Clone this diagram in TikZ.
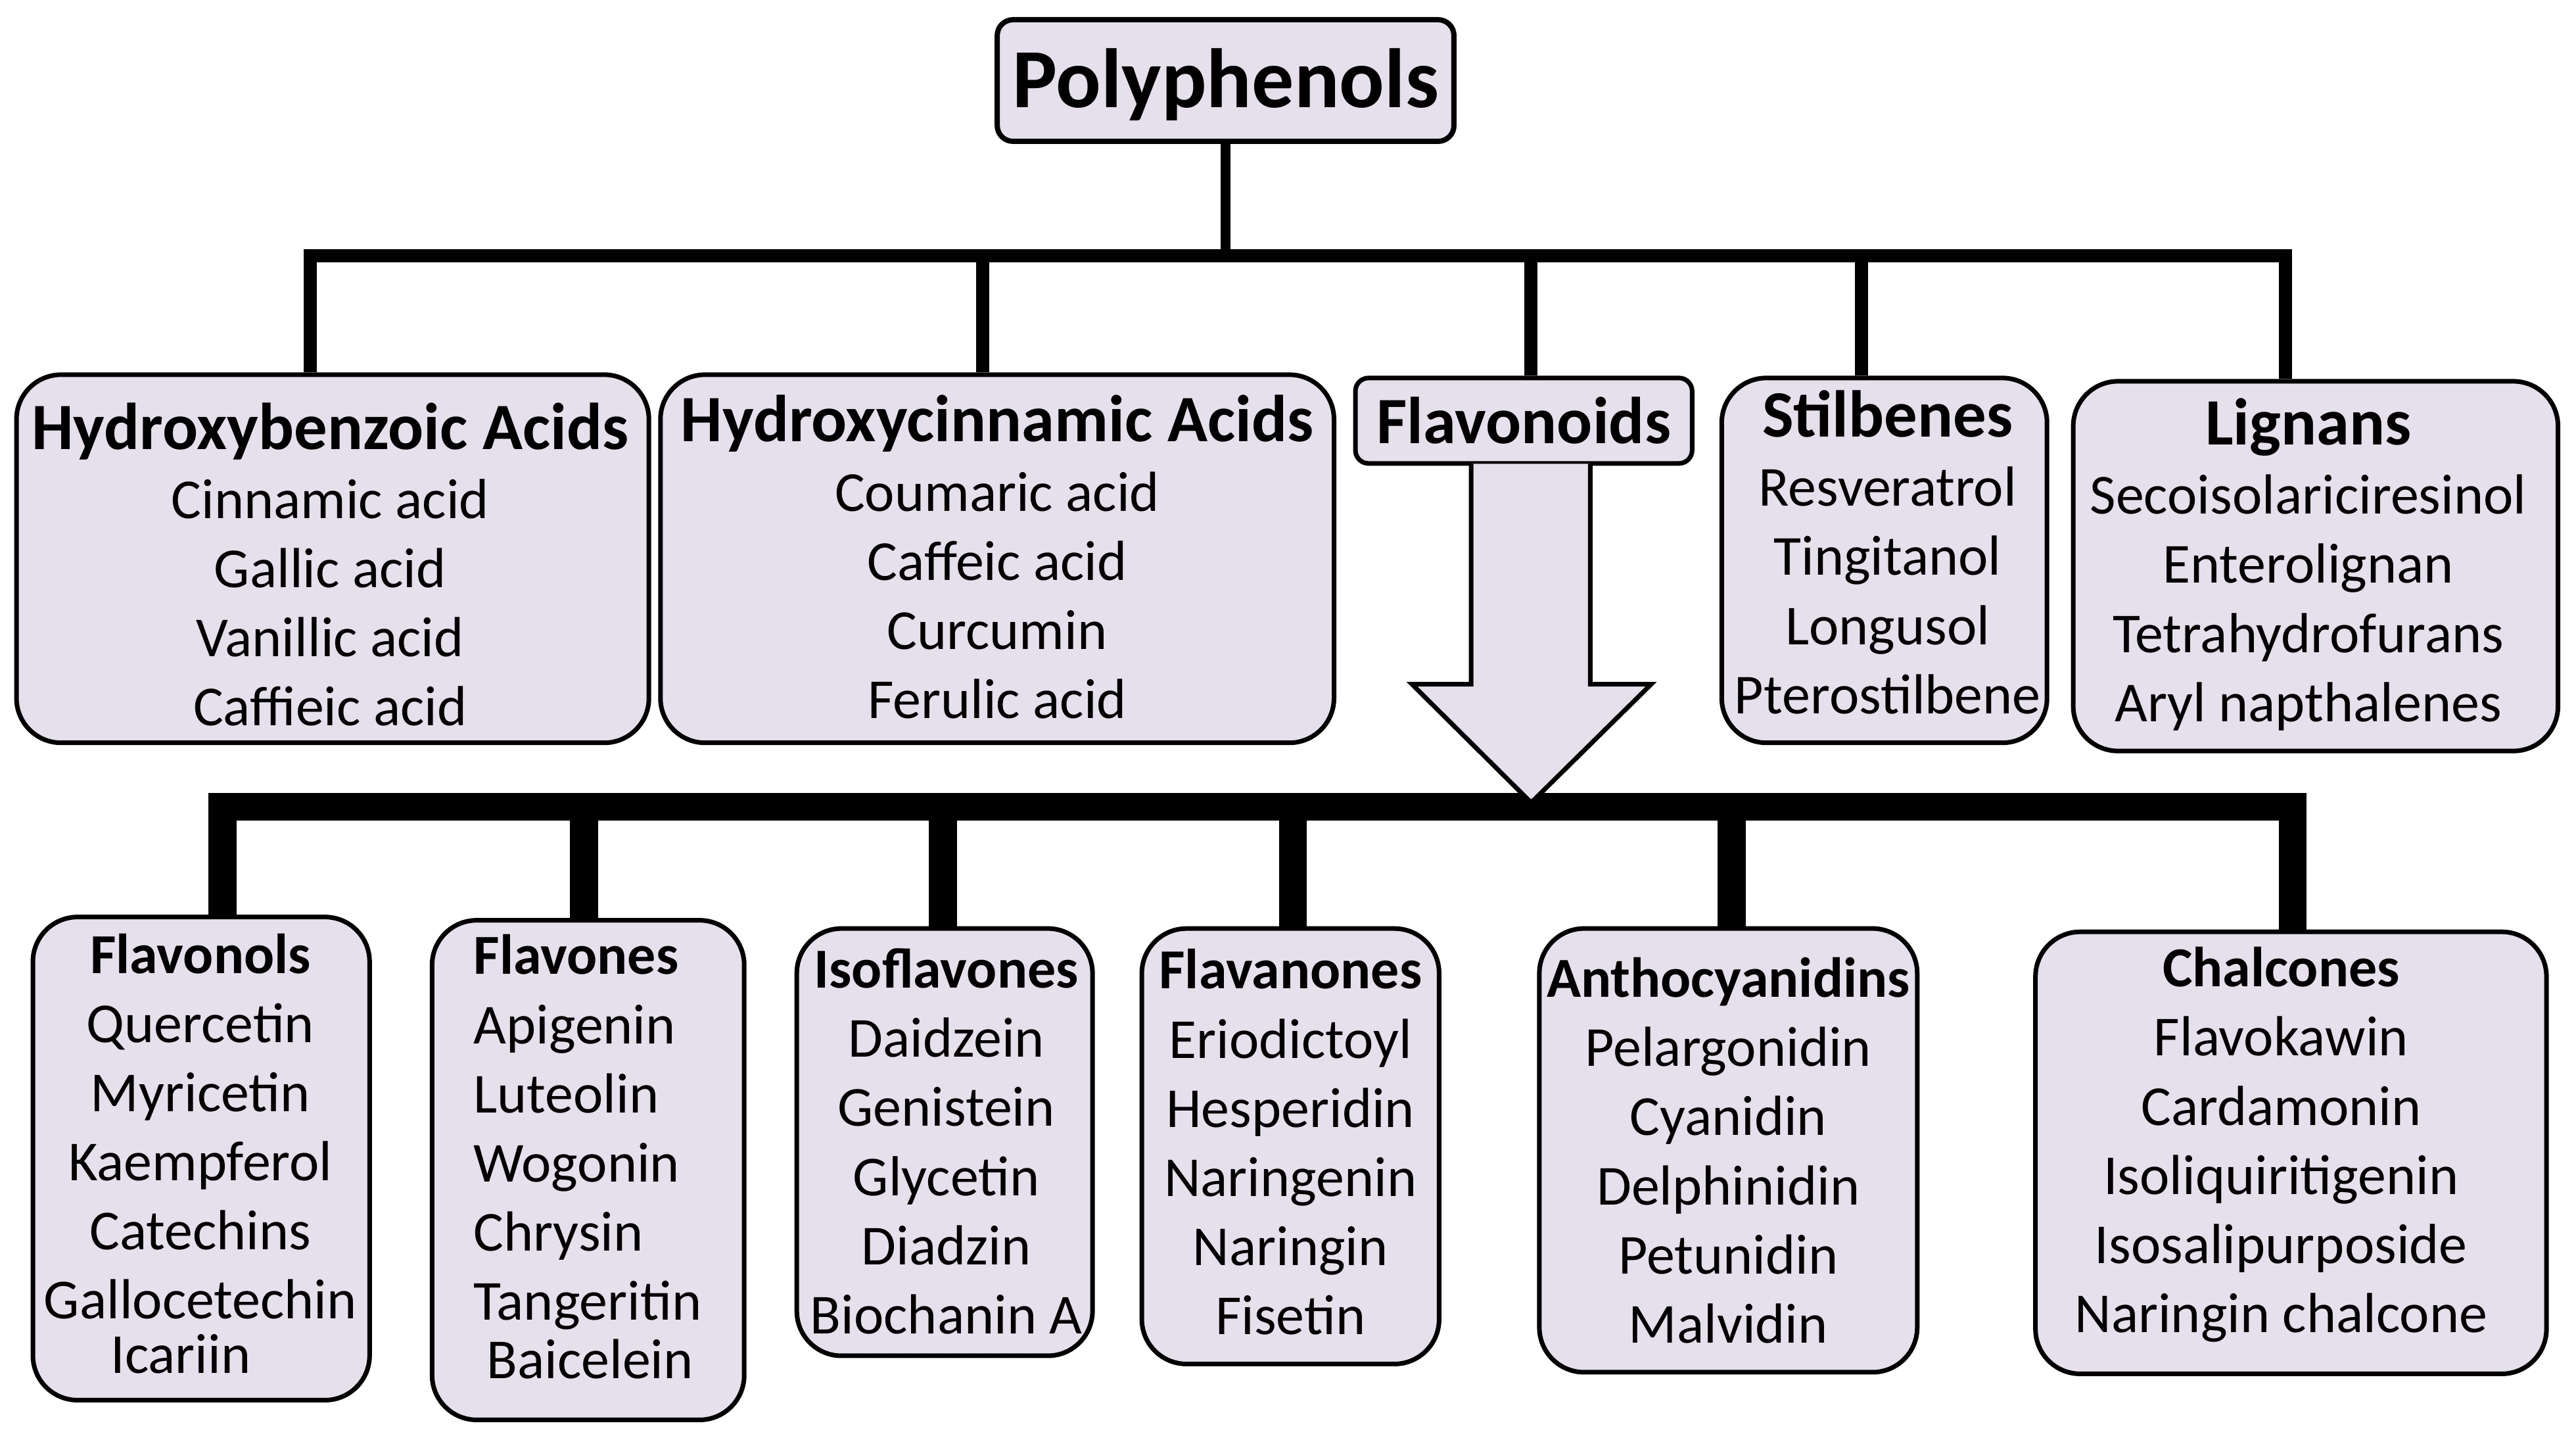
\documentclass[tikz,border=0pt]{standalone}
\usepackage{fontspec}
\setmainfont{Carlito}
\usetikzlibrary{calc,backgrounds}
\definecolor{boxfill}{RGB}{230,224,236}
\newcommand\hdr[1]{{\fontsize{25.2}{26.3}\selectfont\bfseries #1}}
\begin{document}
\begin{tikzpicture}[x=0.625pt,y=-0.625pt,
  box/.style={draw=black, line width=1.75pt, fill=boxfill, rounded corners=17pt, inner sep=0pt},
  lst/.style={font=\fontsize{21.5}{26.3}\selectfont, align=center, inner sep=0pt},
  thinline/.style={line width=5pt},
  stemline/.style={line width=3.8pt},
  thickline/.style={line width=10.6pt}]
\useasboundingbox (0,0) rectangle (1568,875);

% ---- top ----
\node[box, rounded corners=6pt, line width=2pt, minimum width=173.75pt, minimum height=46.25pt,
      text depth=2pt, font=\fontsize{32}{38}\selectfont\bfseries] (poly) at (746,49) {Polyphenols};

\node[box, minimum width=240.6pt, minimum height=140pt] (hba) at (202.5,340) {};
\node[lst] (hbat) at (201,343.5) {\hdr{Hydroxybenzoic Acids}\\Cinnamic acid\\Gallic acid\\Vanillic acid\\Caffieic acid};

\node[box, minimum width=256.25pt, minimum height=140pt] (hca) at (607,340) {};
\node[lst] (hcat) at (607,339) {\hdr{Hydroxycinnamic Acids}\\Coumaric acid\\Caffeic acid\\Curcumin\\Ferulic acid};

\node[box, rounded corners=5pt, minimum width=128.1pt, minimum height=32.5pt,
      font=\fontsize{25.2}{30}\selectfont\bfseries] (flav) at (927.5,256) {Flavonoids};

\node[box, minimum width=123.75pt, minimum height=138.75pt] (stil) at (1147,341) {};
\node[lst] (stilt) at (1149,336) {\hdr{Stilbenes}\\Resveratrol\\Tingitanol\\Longusol\\Pterostilbene};

\node[box, minimum width=184.4pt, minimum height=140.6pt] (lign) at (1409.5,344.5) {};
\node[lst] (lignt) at (1405,343.5) {\hdr{Lignans}\\Secoisolariciresinol\\Enterolignan\\Tetrahydrofurans\\Aryl napthalenes};

% block arrow from Flavonoids
\filldraw[line width=1.75pt, fill=boxfill, line join=miter]
  ($(flav.south)+(-32,-1.2)$) -- ($(flav.south)+(-32,133)$) -- ($(flav.south)+(-68,133)$)
  -- ($(flav.south)+(4.5,205)$) -- ($(flav.south)+(77.5,133)$) -- ($(flav.south)+(40.5,133)$)
  -- ($(flav.south)+(40.5,-1.2)$);

% ---- bottom ----
\node[box, minimum width=128.1pt, minimum height=183.75pt] (fnol) at (122.5,705) {};
\node[lst] (fnolt) at (122,702) {\textbf{Flavonols}\\Quercetin\\Myricetin\\Kaempferol\\Catechins\\Gallocetechin\\[-5.6pt]Icariin\hspace*{15pt}};

\node[box, minimum width=118.75pt, minimum height=190pt] (fone) at (358,712) {};
\node[lst, align=left, anchor=west] (fonet) at (288,704) {\textbf{Flavones}\\Apigenin\\Luteolin\\Wogonin\\Chrysin\\Tangeritin\\[-4pt]\hspace*{5pt}Baicelein};

\node[box, minimum width=112.5pt, minimum height=162.5pt] (isof) at (575,695) {};
\node[lst] (isoft) at (576,694.5) {\textbf{Isoflavones}\\Daidzein\\Genistein\\Glycetin\\Diadzin\\Biochanin A};

\node[box, minimum width=113.1pt, minimum height=165.6pt] (fnon) at (785.5,697.5) {};
\node[lst] (fnont) at (785.5,695) {\textbf{Flavanones}\\Eriodictoyl\\Hesperidin\\Naringenin\\Naringin\\Fisetin};

\node[box, minimum width=143.75pt, minimum height=168.75pt] (anth) at (1052,700) {};
\node[lst] (antht) at (1052,700) {\textbf{Anthocyanidins}\\Pelargonidin\\Cyanidin\\Delphinidin\\Petunidin\\Malvidin};

\node[box, minimum width=194.4pt, minimum height=168.1pt] (chal) at (1394.5,701.5) {};
\node[lst] (chalt) at (1388.5,696.5) {\textbf{Chalcones}\\Flavokawin\\Cardamonin\\Isoliquiritigenin\\Isosalipurposide\\Naringin chalcone};

% ---- connectors ----
\coordinate (d1) at (189,155.5);
\coordinate (d2) at (598,155.5);
\coordinate (d3) at (932,155.5);
\coordinate (d4) at (1133,155.5);
\coordinate (d5) at (1391,155.5);
\coordinate (b1) at (135.5,491);
\coordinate (b2) at (355.5,491);
\coordinate (b3) at (574,491);
\coordinate (b4) at (787,491);
\coordinate (b5) at (1054,491);
\coordinate (b6) at (1395.5,491);

\begin{scope}[on background layer]
  \draw[stemline] (poly.south) -- (poly.south |- d1);
  \draw[thinline, line cap=rect] (d1) -- (d5);
  \draw[thinline] (d1) -- (d1 |- hba.north);
  \draw[thinline] (d2) -- (d2 |- hca.north);
  \draw[thinline] (d3) -- (d3 |- flav.north);
  \draw[thinline] (d4) -- (d4 |- stil.north);
  \draw[thinline] (d5) -- (d5 |- lign.north);
  \draw[thickline, line cap=rect] (b1) -- (b6);
  \draw[thickline] (b1) -- (b1 |- fnol.north);
  \draw[thickline] (b2) -- (b2 |- fone.north);
  \draw[thickline] (b3) -- (b3 |- isof.north);
  \draw[thickline] (b4) -- (b4 |- fnon.north);
  \draw[thickline] (b5) -- (b5 |- anth.north);
  \draw[thickline] (b6) -- (b6 |- chal.north);
\end{scope}
\end{tikzpicture}
\end{document}
